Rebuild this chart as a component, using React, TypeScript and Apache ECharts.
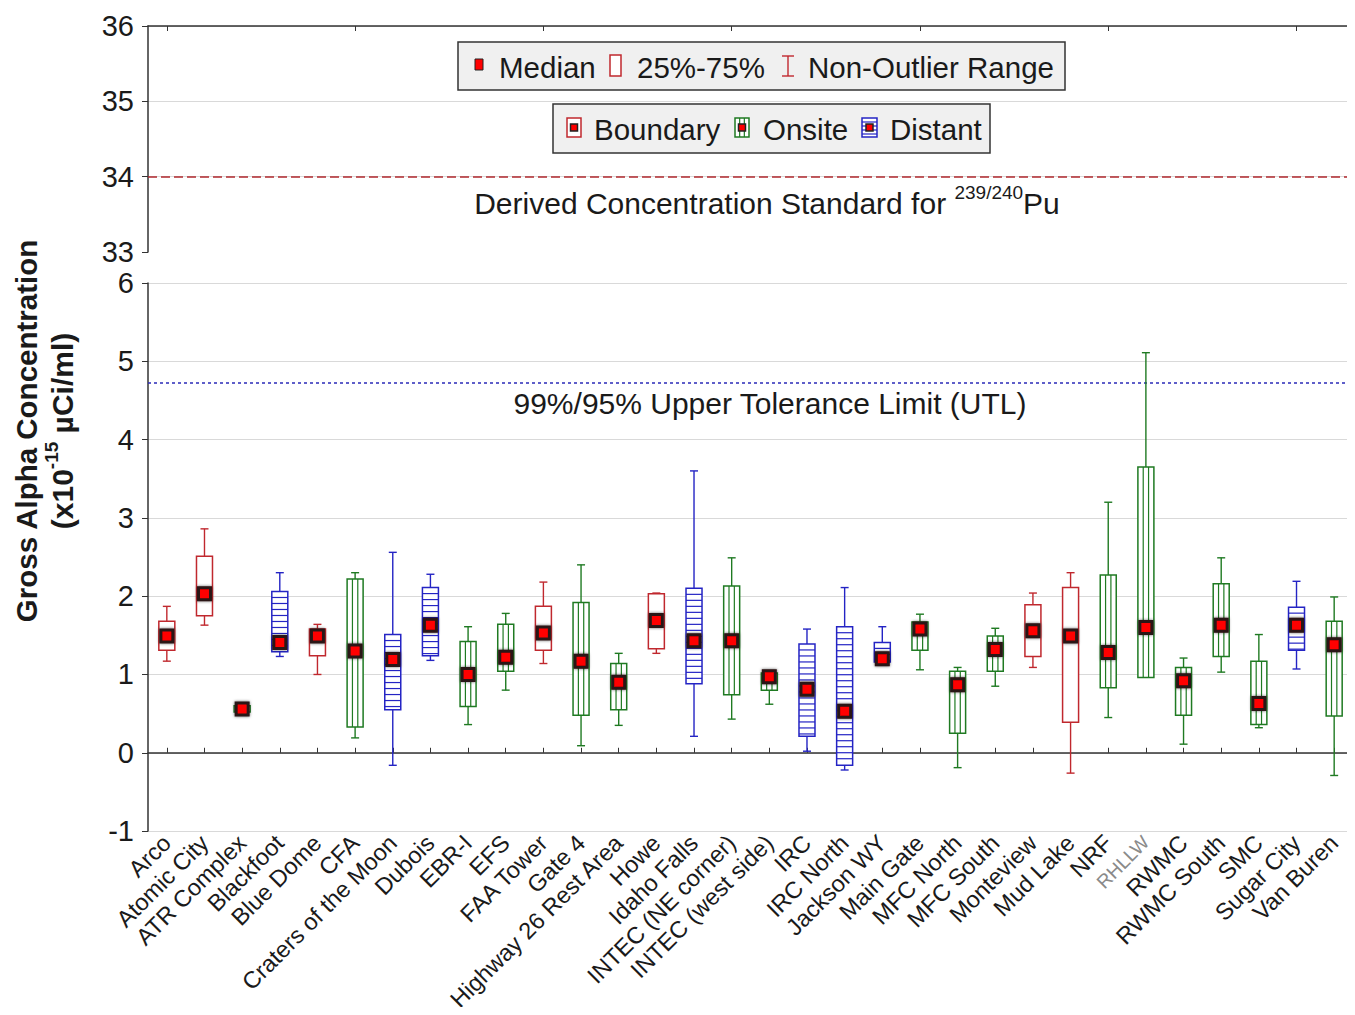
import React, { useEffect, useRef } from 'react';
import * as echarts from 'echarts';

const categories = [
  'Arco', 'Atomic City', 'ATR Complex', 'Blackfoot', 'Blue Dome', 'CFA', 'Craters of the Moon', 'Dubois',
  'EBR-I', 'EFS', 'FAA Tower', 'Gate 4', 'Highway 26 Rest Area', 'Howe', 'Idaho Falls', 'INTEC (NE corner)',
  'INTEC (west side)', 'IRC', 'IRC North', 'Jackson WY', 'Main Gate', 'MFC North', 'MFC South', 'Monteview',
  'Mud Lake', 'NRF', 'RHLLW', 'RWMC', 'RWMC South', 'SMC', 'Sugar City', 'Van Buren',
];
// 0 = Boundary, 1 = Onsite, 2 = Distant
const siteTypes = [0, 0, 1, 2, 0, 1, 2, 2, 1, 1, 0, 1, 1, 0, 2, 1, 1, 2, 2, 2, 1, 1, 1, 0, 0, 1, 1, 1, 1, 1, 2, 1];
const lowWhisker = [1.17, 1.63, 0.52, 1.23, 1.00, 0.19, -0.16, 1.18, 0.36, 0.80, 1.14, 0.09, 0.35, 1.27, 0.21, 0.43,
  0.62, 0.02, -0.22, 1.15, 1.06, -0.19, 0.85, 1.09, -0.26, 0.45, 0.96, 0.11, 1.03, 0.32, 1.07, -0.29];
const quartile1 = [1.31, 1.75, 0.52, 1.29, 1.24, 0.33, 0.55, 1.24, 0.59, 1.04, 1.31, 0.48, 0.55, 1.33, 0.88, 0.74,
  0.80, 0.21, -0.16, 1.16, 1.31, 0.25, 1.04, 1.23, 0.39, 0.83, 0.96, 0.48, 1.23, 0.36, 1.31, 0.47];
const medians = [1.49, 2.03, 0.56, 1.41, 1.49, 1.30, 1.19, 1.63, 1.00, 1.22, 1.53, 1.17, 0.90, 1.69, 1.43, 1.43,
  0.97, 0.81, 0.53, 1.20, 1.58, 0.87, 1.32, 1.56, 1.49, 1.28, 1.60, 0.92, 1.63, 0.63, 1.63, 1.38];
const quartile3 = [1.68, 2.51, 0.60, 2.06, 1.58, 2.22, 1.51, 2.11, 1.42, 1.64, 1.87, 1.92, 1.14, 2.03, 2.10, 2.13,
  1.02, 1.39, 1.61, 1.41, 1.67, 1.04, 1.49, 1.89, 2.11, 2.27, 3.65, 1.09, 2.16, 1.17, 1.86, 1.68];
const highWhisker = [1.87, 2.86, 0.60, 2.30, 1.64, 2.30, 2.56, 2.28, 1.61, 1.78, 2.18, 2.40, 1.27, 2.04, 3.60, 2.49,
  1.04, 1.58, 2.11, 1.61, 1.77, 1.09, 1.59, 2.04, 2.30, 3.20, 5.11, 1.21, 2.49, 1.51, 2.19, 1.99];

const typeNames = ['Boundary', 'Onsite', 'Distant'];
const dcsValue = 34;
const utlValue = 4.72;
const upperRange = [33, 36];
const lowerRange = [-1, 6];

const COLORS = ['#c0282e', '#1f7a22', '#2424c4'];
const FONT = "'Liberation Sans', Arial, sans-serif";
const TXT = '#1a1a1a';

function legendIcon(x: number, y: number, w: number, h: number, color: string, kind: number) {
  const els: any[] = [
    { type: 'rect', shape: { x, y, width: w, height: h }, style: { fill: '#ffffff', stroke: color, lineWidth: 1.5 } },
  ];
  if (kind === 1) {
    els.push({ type: 'line', shape: { x1: x + w / 3, y1: y, x2: x + w / 3, y2: y + h }, style: { stroke: color, lineWidth: 1.2 } });
    els.push({ type: 'line', shape: { x1: x + (2 * w) / 3, y1: y, x2: x + (2 * w) / 3, y2: y + h }, style: { stroke: color, lineWidth: 1.2 } });
  } else if (kind === 2) {
    for (let yy = y + 4; yy < y + h - 1; yy += 4) {
      els.push({ type: 'line', shape: { x1: x, y1: yy, x2: x + w, y2: yy }, style: { stroke: color, lineWidth: 1.2 } });
    }
  }
  els.push({ type: 'rect', shape: { x: x + w / 2 - 3.5, y: y + h / 2 - 3.5, width: 7, height: 7 }, style: { fill: '#ff0000', stroke: '#222', lineWidth: 1.5 } });
  return els;
}

export default function App() {
  const ref = useRef<HTMLDivElement>(null);
  useEffect(() => {
    if (!ref.current) return;
    const chart = echarts.init(ref.current, null, { renderer: 'svg' });

    const boxData = categories.map((_, i) => [i, lowWhisker[i], quartile1[i], medians[i], quartile3[i], highWhisker[i], siteTypes[i]]);

    const renderItem = (params: any, api: any) => {
      const i = api.value(0);
      const t = api.value(6);
      const color = COLORS[t];
      const lo = api.coord([i, api.value(1)]);
      const b1 = api.coord([i, api.value(2)]);
      const md = api.coord([i, api.value(3)]);
      const b3 = api.coord([i, api.value(4)]);
      const hi = api.coord([i, api.value(5)]);
      const cx = lo[0];
      const w = 16;
      const cap = 4;
      const ls = { stroke: color, lineWidth: 1.4 };
      const children: any[] = [];
      if (hi[1] < b3[1] - 0.5) {
        children.push({ type: 'line', shape: { x1: cx, y1: hi[1], x2: cx, y2: b3[1] }, style: ls });
        children.push({ type: 'line', shape: { x1: cx - cap, y1: hi[1], x2: cx + cap, y2: hi[1] }, style: ls });
      }
      if (lo[1] > b1[1] + 0.5) {
        children.push({ type: 'line', shape: { x1: cx, y1: b1[1], x2: cx, y2: lo[1] }, style: ls });
        children.push({ type: 'line', shape: { x1: cx - cap, y1: lo[1], x2: cx + cap, y2: lo[1] }, style: ls });
      }
      const top = b3[1];
      const bot = b1[1];
      children.push({ type: 'rect', shape: { x: cx - w / 2, y: top, width: w, height: Math.max(bot - top, 1) }, style: { fill: '#ffffff', stroke: color, lineWidth: 1.5 } });
      if (t === 1) {
        children.push({ type: 'line', shape: { x1: cx - w / 2 + w / 3, y1: top, x2: cx - w / 2 + w / 3, y2: bot }, style: { stroke: color, lineWidth: 1.2 } });
        children.push({ type: 'line', shape: { x1: cx - w / 2 + (2 * w) / 3, y1: top, x2: cx - w / 2 + (2 * w) / 3, y2: bot }, style: { stroke: color, lineWidth: 1.2 } });
      } else if (t === 2) {
        for (let yy = top + 6; yy < bot - 1; yy += 6) {
          children.push({ type: 'line', shape: { x1: cx - w / 2, y1: yy, x2: cx + w / 2, y2: yy }, style: { stroke: color, lineWidth: 1.2 } });
        }
      }
      children.push({ type: 'rect', shape: { x: md[0] - 6, y: md[1] - 6, width: 12, height: 12 }, style: { fill: '#ff0000', stroke: '#2a1515', lineWidth: 3, shadowBlur: 3, shadowColor: 'rgba(0,0,0,0.6)' } });
      return { type: 'group', children };
    };

    const graphic: any[] = [
      // Legend 1
      { type: 'rect', shape: { x: 458, y: 42, width: 607, height: 48 }, style: { fill: '#f0f0f0', stroke: '#333', lineWidth: 1.5 }, z: 10 },
      { type: 'rect', shape: { x: 475, y: 59, width: 8, height: 11 }, style: { fill: '#ff0000', stroke: '#222', lineWidth: 1 }, z: 11 },
      { type: 'text', x: 499, y: 67, style: { text: 'Median', fontSize: 29.5, fontFamily: FONT, fill: TXT, verticalAlign: 'middle' }, z: 11 },
      { type: 'rect', shape: { x: 610, y: 55, width: 11, height: 21 }, style: { fill: '#ffffff', stroke: COLORS[0], lineWidth: 1.5 }, z: 11 },
      { type: 'text', x: 637, y: 67, style: { text: '25%-75%', fontSize: 29.5, fontFamily: FONT, fill: TXT, verticalAlign: 'middle' }, z: 11 },
      { type: 'line', shape: { x1: 788, y1: 56, x2: 788, y2: 76 }, style: { stroke: COLORS[0], lineWidth: 1.4 }, z: 11 },
      { type: 'line', shape: { x1: 782, y1: 56, x2: 794, y2: 56 }, style: { stroke: COLORS[0], lineWidth: 1.4 }, z: 11 },
      { type: 'line', shape: { x1: 782, y1: 76, x2: 794, y2: 76 }, style: { stroke: COLORS[0], lineWidth: 1.4 }, z: 11 },
      { type: 'text', x: 808, y: 67, style: { text: 'Non-Outlier Range', fontSize: 29.5, fontFamily: FONT, fill: TXT, verticalAlign: 'middle' }, z: 11 },
      // Legend 2
      { type: 'rect', shape: { x: 553, y: 104, width: 437, height: 49 }, style: { fill: '#f0f0f0', stroke: '#333', lineWidth: 1.5 }, z: 10 },
      ...legendIcon(567, 118, 14, 19, COLORS[0], 0).map((e) => ({ ...e, z: 11 })),
      { type: 'text', x: 594, y: 129, style: { text: typeNames[0], fontSize: 29.5, fontFamily: FONT, fill: TXT, verticalAlign: 'middle' }, z: 11 },
      ...legendIcon(735, 118, 14, 19, COLORS[1], 1).map((e) => ({ ...e, z: 11 })),
      { type: 'text', x: 763, y: 129, style: { text: typeNames[1], fontSize: 29.5, fontFamily: FONT, fill: TXT, verticalAlign: 'middle' }, z: 11 },
      ...legendIcon(862, 118, 15, 19, COLORS[2], 2).map((e) => ({ ...e, z: 11 })),
      { type: 'text', x: 890, y: 129, style: { text: typeNames[2], fontSize: 29.5, fontFamily: FONT, fill: TXT, verticalAlign: 'middle' }, z: 11 },
      // Annotations
      {
        type: 'text', x: 767, y: 203, z: 11,
        style: {
          text: 'Derived Concentration Standard for {sup|239/240}Pu', fontSize: 30, fontFamily: FONT, fill: TXT,
          align: 'center', verticalAlign: 'middle',
          rich: { sup: { fontSize: 19, fontFamily: FONT, fill: TXT, verticalAlign: 'top', lineHeight: 20 } },
          lineHeight: 40,
        },
      },
      {
        type: 'text', x: 770, y: 403, z: 11,
        style: { text: '99%/95% Upper Tolerance Limit (UTL)', fontSize: 30, fontFamily: FONT, fill: TXT, align: 'center', verticalAlign: 'middle' },
      },
      // Y axis name
      {
        type: 'text', x: 26, y: 431, rotation: Math.PI / 2, z: 11,
        style: { text: 'Gross Alpha Concentration', fontSize: 29.5, fontWeight: 'bold', fontFamily: FONT, fill: TXT, align: 'center', verticalAlign: 'middle' },
      },
      {
        type: 'text', x: 62, y: 431, rotation: Math.PI / 2, z: 11,
        style: {
          text: '(x10{sup|-15} µCi/ml)', fontSize: 30, fontWeight: 'bold', fontFamily: FONT, fill: TXT, align: 'center', verticalAlign: 'middle',
          lineHeight: 40,
          rich: { sup: { fontSize: 19, fontWeight: 'bold', fontFamily: FONT, fill: TXT, verticalAlign: 'top', lineHeight: 20 } },
        },
      },
    ];

    const yLabel = { fontSize: 29, color: TXT, fontFamily: FONT, margin: 14 };

    chart.setOption({
      animation: false,
      backgroundColor: '#ffffff',
      textStyle: { fontFamily: FONT },
      grid: [
        { left: 148, right: 2, top: 26, height: 226 },
        { left: 148, right: 2, top: 283, height: 549 },
      ],
      xAxis: [
        {
          type: 'category', gridIndex: 0, data: categories, position: 'top',
          axisLine: { show: true, lineStyle: { color: '#333', width: 1.5 } },
          axisTick: { show: true, inside: true, alignWithLabel: true, length: 5, lineStyle: { color: '#333' } },
          axisLabel: { show: false }, splitLine: { show: false },
        },
        {
          type: 'category', gridIndex: 1,
          data: categories.map((c) => (c === 'RHLLW' ? { value: c, textStyle: { color: '#8a8a8a', fontSize: 19 } } : c)),
          axisLine: { show: true, lineStyle: { color: '#333', width: 1.5 } },
          axisTick: { show: true, inside: true, alignWithLabel: true, length: 5, lineStyle: { color: '#333' } },
          axisLabel: { rotate: 45, fontSize: 23.5, color: TXT, fontFamily: FONT, margin: 8, interval: 0 },
          splitLine: { show: false },
        },
      ],
      yAxis: [
        {
          type: 'value', gridIndex: 0, min: upperRange[0], max: upperRange[1], interval: 1,
          axisLine: { show: true, lineStyle: { color: '#333', width: 1.5 } },
          axisTick: { show: true, length: 6, lineStyle: { color: '#333' } },
          axisLabel: yLabel,
          splitLine: { show: true, showMinLine: false, lineStyle: { color: '#d9d9d9', width: 1.2 } },
        },
        {
          type: 'value', gridIndex: 0, position: 'right', min: upperRange[0], max: upperRange[1], interval: 1,
          axisLine: { show: true, lineStyle: { color: '#333', width: 1.5 } },
          axisTick: { show: true, inside: true, length: 5, lineStyle: { color: '#333' } },
          axisLabel: { show: false }, splitLine: { show: false },
        },
        {
          type: 'value', gridIndex: 1, min: lowerRange[0], max: lowerRange[1], interval: 1,
          axisLine: { show: true, lineStyle: { color: '#333', width: 1.5 } },
          axisTick: { show: true, length: 6, lineStyle: { color: '#333' } },
          axisLabel: yLabel,
          splitLine: { show: true, lineStyle: { color: '#d9d9d9', width: 1.2 } },
        },
        {
          type: 'value', gridIndex: 1, position: 'right', min: lowerRange[0], max: lowerRange[1], interval: 1,
          axisLine: { show: true, lineStyle: { color: '#333', width: 1.5 } },
          axisTick: { show: true, inside: true, length: 5, lineStyle: { color: '#333' } },
          axisLabel: { show: false }, splitLine: { show: false },
        },
      ],
      series: [
        {
          type: 'line', xAxisIndex: 0, yAxisIndex: 0, data: [], silent: true,
          markLine: {
            silent: true, symbol: 'none', label: { show: false },
            lineStyle: { color: '#b0282e', type: [9, 4], width: 1.5 },
            data: [{ yAxis: dcsValue }],
          },
        },
        {
          type: 'custom', xAxisIndex: 1, yAxisIndex: 2, data: boxData, renderItem,
          encode: { x: 0, y: [1, 2, 3, 4, 5] }, z: 5,
          markLine: {
            silent: true, symbol: 'none', label: { show: false },
            lineStyle: { color: '#2a2ab8', type: [3, 3], width: 1.5 },
            data: [{ yAxis: utlValue }],
          },
        },
      ],
      graphic,
    });
    return () => chart.dispose();
  }, []);
  return <div ref={ref} style={{ width: 1355, height: 1015, margin: -8 }} />;
}
